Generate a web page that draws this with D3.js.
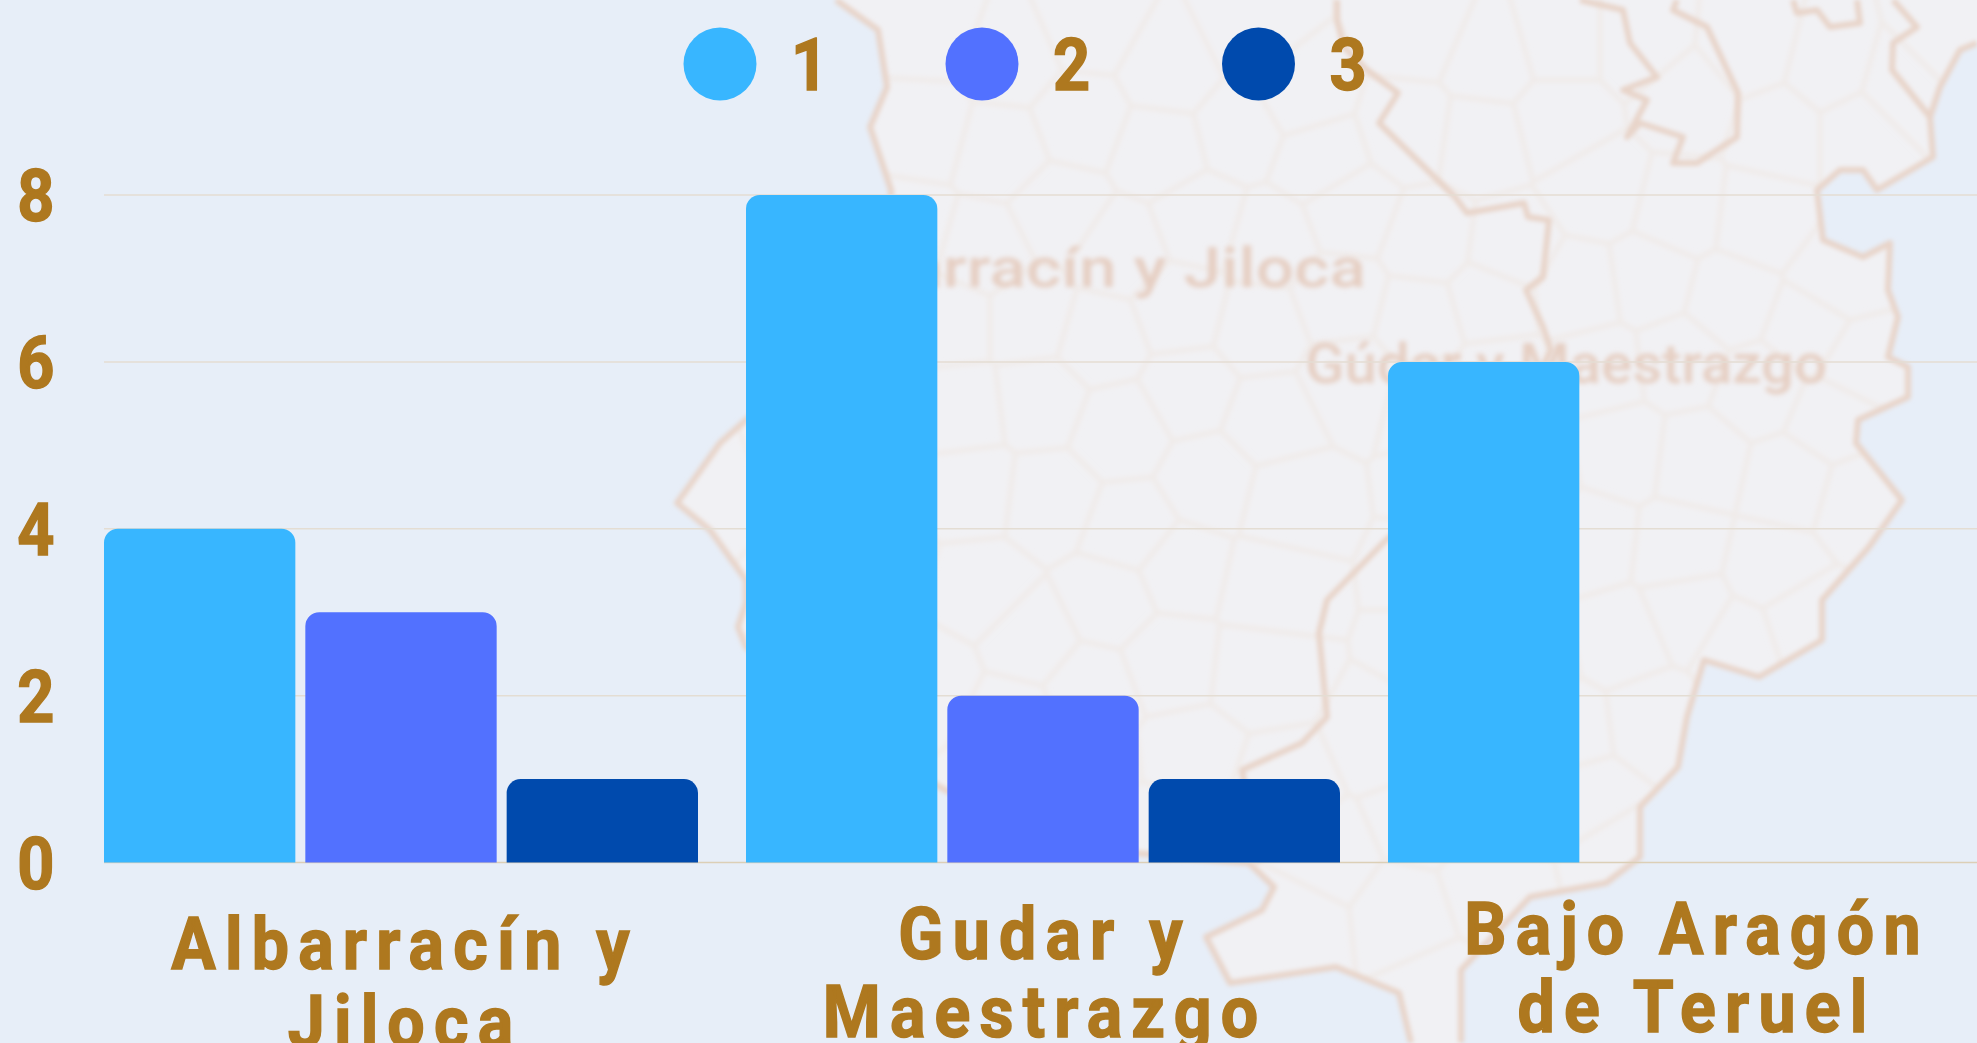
<!DOCTYPE html>
<html>
<head>
<meta charset="utf-8">
<script src="https://cdn.jsdelivr.net/npm/d3@7"></script>
<style>
  html, body { margin: 0; padding: 0; background: #e7eef8; overflow: hidden; }
  svg { display: block; }
  text { font-family: Roboto, "Liberation Sans", sans-serif; font-weight: 700; fill: #ae781f; }
</style>
</head>
<body>
<svg id="chart" width="1977" height="1043"></svg>
<script>
// chart values
const comarcas = ["Albarracín y Jiloca", "Gudar y Maestrazgo", "Bajo Aragón de Teruel"];
const series_names = ["1", "2", "3"];
const series_colors = ["#38b6ff", "#5271ff", "#004aad"];
const values_1 = [4, 8, 6];
const values_2 = [3, 2, null];
const values_3 = [1, 1, null];
const y_ticks = [0, 2, 4, 6, 8];

// wrapped label lines, one list per comarca
const label_lines = [["Albarracín y", "Jiloca"], ["Gudar y", "Maestrazgo"], ["Bajo Aragón", "de Teruel"]];

// background map
const coast = [[836,0],[878,30],[887,87],[870,127],[891,190],[890,300],[800,380],[746,420],[720,443],[677,503],[710,530],[746,580],[746,603],[738,627],[746,647],[860,740],[945,790],[1100,850],[1249,863],[1274,887],[1262,910],[1206,937],[1230,983],[1336,967],[1399,993],[1411,1043]];
const east_coast = [[1461,1043],[1461,970],[1530,897],[1606,883],[1640,857],[1640,807],[1678,767],[1687,717],[1704,660],[1759,677],[1822,640],[1822,600],[1869,547],[1902,500],[1856,443],[1858,420],[1908,397],[1908,367],[1888,357],[1898,317],[1888,290],[1890,243],[1863,257],[1823,240],[1817,190],[1840,170],[1863,170],[1877,190],[1933,157],[1930,117],[1940,87],[1960,50],[1977,43]];
const borders = [
  [[1337,0],[1337,20],[1344,47],[1367,70],[1398,93],[1379,123],[1455,197],[1467,213],[1524,203],[1528,217],[1549,220],[1543,277],[1526,290],[1543,327],[1551,350],[1500,450],[1386,540],[1327,600],[1319,633],[1327,717],[1302,743],[1242,770],[1259,863]],
  [[1580,0],[1623,10],[1630,43],[1657,77],[1623,90],[1647,100],[1627,137],[1640,123],[1683,137],[1673,163],[1697,163],[1737,137],[1738,93],[1707,27],[1673,10],[1677,0]],
  [[1793,0],[1797,13],[1817,10],[1830,27],[1860,23],[1857,0]],
  [[1893,0],[1917,27],[1893,43],[1892,70],[1930,117]]
];
const municipios = [[930,30],[1010,60],[1090,25],[1170,70],[1250,30],[1300,95],[1420,30],[1490,60],[1560,40],[1640,40],[1750,50],[1830,70],[1900,90],[1950,40],
  [925,130],[1000,150],[1080,120],[1160,150],[1240,130],[1320,160],[1410,130],[1480,140],[1560,120],[1690,100],[1780,130],[1860,130],
  [910,230],[980,250],[1060,210],[1120,250],[1200,220],[1270,240],[1350,210],[1430,240],[1510,250],[1600,190],[1680,210],[1760,220],[1840,280],
  [950,320],[1030,320],[1100,340],[1180,310],[1260,330],[1340,300],[1420,320],[1490,300],[1580,290],[1650,280],[1730,300],[1810,330],[1860,360],
  [960,410],[1040,400],[1120,430],[1190,390],[1270,420],[1350,380],[1430,400],[1500,380],[1600,370],[1680,360],[1760,390],[1830,420],
  [720,500],[800,470],[880,450],[970,490],[1050,500],[1130,530],[1210,480],[1290,500],[1450,480],[1530,470],[1620,450],[1700,460],[1790,480],[1860,500],
  [800,570],[880,560],[980,590],[1030,640],[1110,600],[1180,570],[1270,590],[1440,570],[1510,580],[1590,540],[1680,550],[1770,570],[1800,620],
  [830,650],[930,680],[1010,720],[1090,690],[1170,660],[1260,670],[1440,650],[1530,660],[1620,640],[1690,610],[1740,640],
  [1000,790],[1090,770],[1190,760],[1280,790],[1390,740],[1480,740],[1570,730],[1650,720],
  [1160,830],[1330,860],[1420,820],[1510,810],[1590,800],[1620,850],[1300,920],[1400,910],[1490,880],[1440,1000]];

const land_corners = [[1977,0]];
const faded_labels = [
  { text: "Albarracín y Jiloca", right: 1366, baseline: 287, width: 560, size: 56 },
  { text: "Gúdar y Maestrazgo", right: 1827, baseline: 383, width: 522, size: 56 }
];

const width = 1977;
const height = 1043;
const margins = { left: 104, top: 195, bottom: 862.5 };
const svg = d3.select("#chart");

// scales
const x_scale = d3.scaleBand()
    .domain(comarcas)
    .range([margins.left, margins.left + 642 * 3 - 48])
    .paddingInner(48 / 642)
    .paddingOuter(0);

const x_inner = d3.scaleBand()
    .domain(series_names)
    .range([0, x_scale.bandwidth()])
    .paddingInner(10 / 201.5);

const y_scale = d3.scaleLinear()
    .domain([0, 8])
    .range([margins.bottom, margins.top]);

const color_scale = d3.scaleOrdinal().domain(series_names).range(series_colors);

// ---- map layer ----
const defs = svg.append("defs");
defs.append("filter").attr("id", "soft").append("feGaussianBlur").attr("stdDeviation", 2.2);
defs.append("filter").attr("id", "softer").append("feGaussianBlur").attr("stdDeviation", 2.6);

const land_ring = coast.concat(east_coast, land_corners);
defs.append("clipPath").attr("id", "land-clip")
    .append("path")
    .attr("d", d3.line()(land_ring) + "Z");

svg.append("rect").attr("width", width).attr("height", height).attr("fill", "#e7eef8");
svg.append("path").attr("d", d3.line()(land_ring) + "Z").attr("fill", "#f1f1f4");

const voronoi = d3.Delaunay.from(municipios).voronoi([600, -20, 2000, 1060]);
svg.append("g")
    .attr("clip-path", "url(#land-clip)")
    .append("path")
    .attr("d", voronoi.render())
    .attr("fill", "none")
    .attr("stroke", "#f0ebe9")
    .attr("stroke-width", 5)
    .attr("filter", "url(#softer)");

svg.append("g")
    .attr("filter", "url(#soft)")
    .selectAll("path")
    .data([coast, east_coast].concat(borders))
    .join("path")
    .attr("d", d => d3.line()(d))
    .attr("fill", "none")
    .attr("stroke", "#e8d4c9")
    .attr("stroke-width", 6)
    .attr("stroke-linejoin", "round");

svg.append("g")
    .attr("filter", "url(#softer)")
    .selectAll("text")
    .data(faded_labels)
    .join("text")
    .attr("x", d => d.right - d.width)
    .attr("y", d => d.baseline)
    .attr("textLength", d => d.width)
    .attr("lengthAdjust", "spacingAndGlyphs")
    .style("font-size", d => d.size + "px")
    .style("font-weight", 500)
    .style("fill", "#e6cfc3")
    .text(d => d.text);

// ---- grid ----
svg.append("g")
    .selectAll("line")
    .data(y_ticks)
    .join("line")
    .attr("x1", margins.left)
    .attr("x2", width)
    .attr("y1", d => y_scale(d))
    .attr("y2", d => y_scale(d))
    .attr("stroke", d => d == 0 ? "#dccfb6" : "#e4ddd3")
    .attr("stroke-width", 1.5);

// ---- bars ----
function bar_path(x, y, w, base, r) {
    const p = d3.path();
    p.moveTo(x, base);
    p.lineTo(x, y + r);
    p.arcTo(x, y, x + r, y, r);
    p.lineTo(x + w - r, y);
    p.arcTo(x + w, y, x + w, y + r, r);
    p.lineTo(x + w, base);
    p.closePath();
    return p.toString();
}

const all_series = [values_1, values_2, values_3];
const groups = svg.append("g")
    .selectAll("g")
    .data(comarcas)
    .join("g")
    .attr("transform", d => `translate(${x_scale(d)},0)`);

groups.selectAll("path")
    .data((d, i) => series_names
        .map((name, s) => ({ name: name, value: all_series[s][i] }))
        .filter(b => b.value != null))
    .join("path")
    .attr("d", b => bar_path(x_inner(b.name), y_scale(b.value), x_inner.bandwidth(), y_scale(0), 14))
    .attr("fill", b => color_scale(b.name));

// ---- y axis ----
const y_axis = svg.append("g")
    .attr("transform", `translate(${margins.left},0)`)
    .call(d3.axisLeft(y_scale).tickValues(y_ticks).tickSize(0).tickPadding(49).tickFormat(d3.format("d")));
y_axis.select(".domain").remove();
y_axis.selectAll("text")
    .attr("dy", "0.355em")
    .attr("x", -55)
    .attr("transform", "scale(0.9,1)")
    .attr("fill", null)
    .style("font-family", "Roboto, sans-serif")
    .style("font-size", "72px")
    .style("font-weight", 700)
    .style("stroke", "#ae781f")
    .style("stroke-width", "1.5px");

// ---- category labels ----
const label_first_baseline = [969, 959, 954];
const label_shift = [4, 2, 12];
const label_line_height = 78;

label_lines.forEach((lines, i) => {
    const cx = x_scale(comarcas[i]) + x_scale.bandwidth() / 2 + label_shift[i];
    lines.forEach((line, k) => {
        svg.append("text")
            .attr("transform", `translate(${cx},${label_first_baseline[i] + k * label_line_height}) scale(0.92,1)`)
            .attr("text-anchor", "middle")
            .style("font-size", "72px")
            .style("letter-spacing", "10px")
            .style("stroke", "#ae781f")
            .style("stroke-width", "1.5px")
            .text(line);
    });
});

// ---- legend ----
const legend_x = [720, 982, 1258.5];
const legend = svg.append("g")
    .selectAll("g")
    .data(series_names)
    .join("g")
    .attr("transform", (d, i) => `translate(${legend_x[i]},64)`);

legend.append("circle")
    .attr("r", 36.5)
    .attr("fill", d => color_scale(d));

legend.append("text")
    .attr("transform", "translate(71,26) scale(0.9,1)")
    .style("font-size", "72px")
    .style("stroke", "#ae781f")
    .style("stroke-width", "1.5px")
    .text(d => d);
</script>
</body>
</html>
